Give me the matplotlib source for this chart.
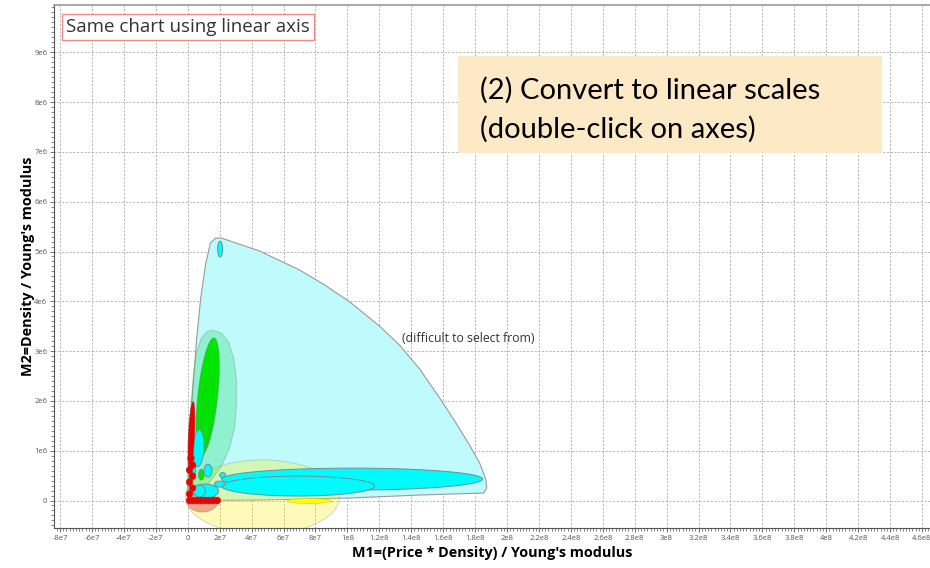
import matplotlib
matplotlib.use("Agg")
import matplotlib.pyplot as plt
import numpy as np
from matplotlib.patches import Polygon, Rectangle
from matplotlib.ticker import MultipleLocator, FuncFormatter

plt.rcParams['font.family'] = ['Open Sans', 'DejaVu Sans']

# envelope outlines (data units)
cyan_env_x = [0, 0.4e6, 1.7e6, 3.6e6, 5.5e6, 8.0e6, 11.1e6, 14.2e6, 17.4e6, 21.1e6,
              45.0e6, 70.0e6, 85.7e6, 101.4e6, 120.2e6, 132.7e6, 145.3e6, 157.8e6,
              167.2e6, 176.6e6, 182.9e6, 186.7e6, 187.3e6, 185.4e6, 145.2e6, 101.4e6,
              45.0e6, 0]
cyan_env_y = [0, 0.81e6, 1.61e6, 2.42e6, 3.22e6, 4.03e6, 4.73e6, 5.17e6, 5.27e6, 5.27e6,
              5.01e6, 4.63e6, 4.33e6, 3.99e6, 3.50e6, 3.12e6, 2.64e6, 2.06e6,
              1.60e6, 1.11e6, 0.75e6, 0.43e6, 0.25e6, 0.15e6, 0.11e6, 0.05e6,
              0.01e6, 0]

green_env_x = [15.5e6, 21.1e6, 25.5e6, 28.7e6, 30.5e6, 30.5e6, 29.3e6, 26.1e6, 21.1e6,
               13.6e6, 6.1e6, 1.1e6, 0, 0.4e6, 1.1e6, 2.3e6, 3.6e6, 5.5e6, 8.6e6, 11.7e6]
green_env_y = [3.42e6, 3.36e6, 3.18e6, 2.86e6, 2.42e6, 1.92e6, 1.46e6, 1.05e6, 0.69e6,
               0.37e6, 0.13e6, 0.01e6, 0.21e6, 0.81e6, 1.42e6, 2.02e6, 2.52e6, 2.98e6,
               3.26e6, 3.38e6]

# ellipses: centre x, centre y, width, height, shear of the top (x units)
yellow_env = [(46.8e6, 0.07e6, 96.6e6, 1.49e6, 0)]
salmon_ell = [(9.2e6, -0.03e6, 18.8e6, 0.40e6, 0)]
green_ell = [(12.5e6, 2.09e6, 12.5e6, 2.35e6, 3.8e6),
             (8.5e6, 0.52e6, 3.5e6, 0.22e6, 0)]
green_inner = [(12.0e6, 1.75e6, 7.0e6, 1.50e6, 2.0e6),
               (11.0e6, 1.45e6, 4.5e6, 1.10e6, 1.5e6)]
cyan_ell = [(103.0e6, 0.43e6, 163.6e6, 0.44e6, 0),
            (69.1e6, 0.29e6, 95.9e6, 0.40e6, 0),
            (20.3e6, 5.05e6, 3.1e6, 0.32e6, 0),
            (6.7e6, 1.05e6, 6.9e6, 0.74e6, 0.5e6),
            (12.7e6, 0.60e6, 5.0e6, 0.26e6, 0),
            (21.8e6, 0.51e6, 3.8e6, 0.10e6, 0),
            (19.9e6, 0.33e6, 6.3e6, 0.12e6, 0),
            (11.1e6, 0.19e6, 16.3e6, 0.28e6, 0),
            (7.3e6, 0.19e6, 7.5e6, 0.24e6, 0),
            (2.9e6, 0.61e6, 3.8e6, 0.40e6, 0)]
red_ell = [(2.3e6, 1.30e6, 3.8e6, 1.37e6, 1.0e6)]
red_dot_x = [1.1e6, 3.6e6, 6.1e6, 8.6e6, 11.1e6, 13.6e6, 16.1e6, 18.6e6,
             1.1e6, 3.0e6, 1.1e6, 3.0e6, 1.1e6, 3.0e6, 2.0e6]
red_dot_y = [0, 0, 0, 0, 0, 0, 0, 0,
             0.13e6, 0.25e6, 0.37e6, 0.49e6, 0.61e6, 0.71e6, 0.85e6]
yellow_ell = [(76.3e6, -0.01e6, 28.2e6, 0.10e6, 0)]


def ellipse_pts(cx, cy, w, h, shear, n=90):
    t = np.linspace(0, 2 * np.pi, n)
    s = np.sin(t)
    return np.column_stack([cx + w / 2 * np.cos(t) + shear * s, cy + h / 2 * s])


def draw_ellipses(ax, items, fc, ec='#8a8a8a', lw=0.7, z=2):
    for cx, cy, w, h, sh in items:
        ax.add_patch(Polygon(ellipse_pts(cx, cy, w, h, sh), closed=True, facecolor=fc,
                             edgecolor=ec, lw=lw, zorder=z))


fig = plt.figure(figsize=(9.3, 5.68), dpi=100)
ax = fig.add_axes([54.3 / 930, 40 / 568, 1 - 54.3 / 930, 523 / 568])

# big envelopes
ax.add_patch(Polygon(np.column_stack([cyan_env_x, cyan_env_y]), closed=True,
                     facecolor='#bffafc', edgecolor='#9a9a9a', lw=0.8, joinstyle='round',
                     zorder=2))
draw_ellipses(ax, yellow_env, (1.0, 0.94, 0.0, 0.27), ec=(0.6, 0.6, 0.6, 0.4), z=2.1)
ax.add_patch(Polygon(np.column_stack([green_env_x, green_env_y]), closed=True,
                     facecolor=(0.0, 0.85, 0.3, 0.25), edgecolor=(0.5, 0.6, 0.5, 0.4),
                     lw=0.8, zorder=2.2))
draw_ellipses(ax, salmon_ell, '#f4a888', ec=(0.6, 0.5, 0.5, 0.5), z=2.3)

# families
draw_ellipses(ax, green_ell, '#00e600', ec=(0.3, 0.6, 0.3, 0.5), z=3)
draw_ellipses(ax, green_inner, 'none', ec=(0.3, 0.6, 0.3, 0.35), z=3.1)
draw_ellipses(ax, cyan_ell, '#00fbff', ec='#6f8f90', z=3.2)
draw_ellipses(ax, red_ell, '#ee0000', ec=(0.6, 0.2, 0.2, 0.6), z=3.5)
red_dots = [(x, y, 4.2e6, 0.14e6, 0) for x, y in zip(red_dot_x, red_dot_y)]
draw_ellipses(ax, red_dots, '#ee0000', ec=(0.6, 0.2, 0.2, 0.6), lw=0.5, z=3.6)
draw_ellipses(ax, yellow_ell, '#ffff00', ec=(0.7, 0.7, 0.3, 0.6), lw=0.5, z=3.4)

ax.text(134e6, 3.26e6, '(difficult to select from)', fontsize=8.8, color='#333333',
        va='center', ha='left', zorder=5)

# axes
ax.set_xlim(-8.36e7, 4.65e8)
ax.set_ylim(-0.552e6, 9.95e6)
ax.xaxis.set_major_locator(MultipleLocator(2e7))
ax.xaxis.set_minor_locator(MultipleLocator(2e6))
ax.yaxis.set_major_locator(MultipleLocator(1e6))
ax.yaxis.set_minor_locator(MultipleLocator(1e5))


def sci(v, pos):
    if abs(v) < 1:
        return '0'
    e = int(np.floor(np.log10(abs(v)) + 1e-9))
    m = v / 10 ** e
    ms = ('%.1f' % m).rstrip('0').rstrip('.')
    return '%se%d' % (ms, e)


ax.xaxis.set_major_formatter(FuncFormatter(sci))
ax.yaxis.set_major_formatter(FuncFormatter(sci))
ax.tick_params(which='major', length=3, width=0.6, color='#555555', labelsize=5.5,
               labelcolor='#555555', pad=2)
ax.tick_params(which='minor', length=2, width=0.5, color='#555555')
ax.grid(True, which='major', color='#a8a8a8', lw=0.6, ls=(0, (2.5, 2)))
ax.set_axisbelow(True)
for s in ['left', 'bottom']:
    ax.spines[s].set_color('#555555')
    ax.spines[s].set_linewidth(0.8)
ax.spines['top'].set_color('#999999')
ax.spines['top'].set_linewidth(1.2)
ax.spines['right'].set_visible(False)

ax.set_xlabel("M1=(Price * Density) / Young's modulus", fontsize=10.4, fontweight='bold',
              labelpad=3)
ax.set_ylabel("M2=Density / Young's modulus", fontsize=10.4, fontweight='bold')
ax.yaxis.set_label_coords(-0.022, 0.5)

# title box
fig.text(66 / 930, 1 - 27 / 568, 'Same chart using linear axis', fontsize=13.5,
         color='#333333', va='center', ha='left',
         bbox=dict(boxstyle='square,pad=0.2', fc='white', ec='#f08a8a', lw=1))

# annotation box
fig.patches.append(Rectangle((458 / 930, 1 - 153 / 568), 424 / 930, 97 / 568,
                             transform=fig.transFigure, facecolor='#fde9c5',
                             edgecolor='none', zorder=5))
fig.text(480 / 930, 1 - 99 / 568, '(2) Convert to linear scales', fontsize=21,
         family=['Lato', 'DejaVu Sans'], color='black', va='baseline', ha='left', zorder=6)
fig.text(480 / 930, 1 - 138 / 568, '(double-click on axes)', fontsize=21,
         family=['Lato', 'DejaVu Sans'], color='black', va='baseline', ha='left', zorder=6)

fig.savefig('out.png', dpi=100)
